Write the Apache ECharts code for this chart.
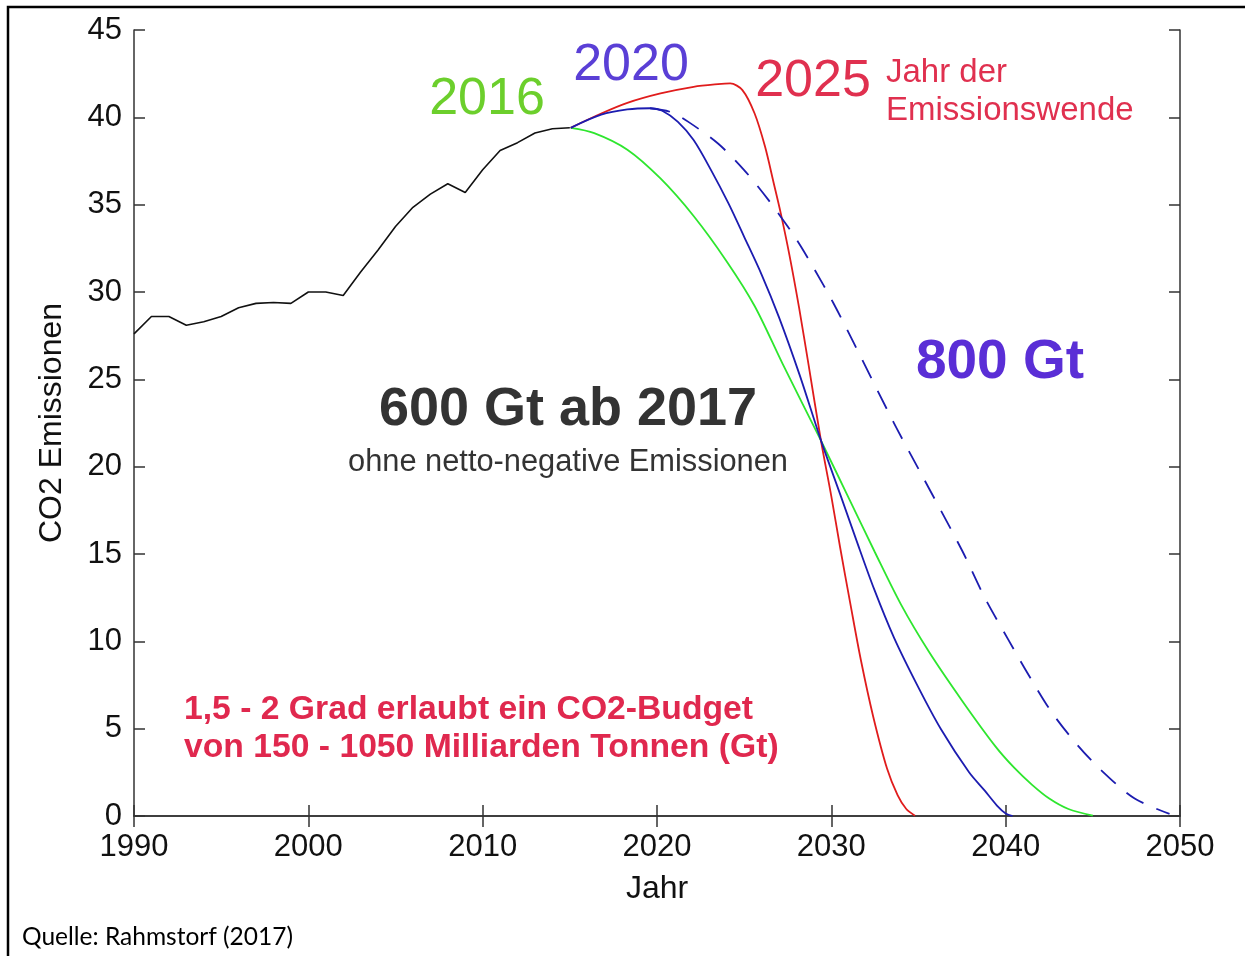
<!DOCTYPE html>
<html>
<head>
<meta charset="utf-8">
<script src="https://cdn.jsdelivr.net/npm/echarts@6/dist/echarts.min.js"></script>
<style>
html,body{margin:0;padding:0;background:#fff;}
#c{width:1245px;height:956px;}
</style>
</head>
<body>
<div id="c"></div>
<script>
// ---- data ----
const histYears = [1990,1991,1992,1993,1994,1995,1996,1997,1998,1999,2000,2001,2002,2003,2004,2005,2006,2007,2008,2009,2010,2011,2012,2013,2014,2015];
const histValues = [27.6,28.6,28.6,28.1,28.3,28.6,29.1,29.35,29.4,29.35,30.0,30.0,29.8,31.15,32.4,33.75,34.85,35.6,36.2,35.7,37.0,38.1,38.55,39.1,39.35,39.4];

const path2025 = [[2015.05,39.4],[2016.8,40.22],[2018.3,40.83],[2020.2,41.37],[2022.1,41.75],[2023.5,41.9],[2024.2,41.94],[2024.9,41.56],[2025.6,40.22],[2026.2,38.31],[2026.7,36.21],[2027.1,34.5],[2027.6,32.1],[2028.15,29.1],[2028.7,25.8],[2029.4,21.52],[2030.0,18.3],[2030.5,15.4],[2031.1,12.1],[2031.7,8.9],[2032.4,5.7],[2033.2,2.7],[2033.8,1.2],[2034.3,0.4],[2034.8,0.02]];
const path2020 = [[2015.05,39.4],[2016.8,40.15],[2018.3,40.45],[2019.6,40.52],[2020.3,40.38],[2021.2,39.74],[2022.1,38.7],[2023.1,36.98],[2024.1,35.07],[2025.0,33.16],[2026.0,31.0],[2027.0,28.55],[2028.2,25.2],[2029.4,21.52],[2030.55,18.3],[2031.45,15.75],[2032.45,13.0],[2033.6,10.2],[2035.0,7.35],[2036.3,4.95],[2037.9,2.5],[2038.8,1.45],[2039.5,0.6],[2040.0,0.15],[2040.4,0.0]];
const path2016 = [[2015.05,39.4],[2016.4,39.1],[2018.3,38.15],[2020.2,36.5],[2022.1,34.35],[2024.0,31.75],[2025.6,29.2],[2027.2,25.9],[2029.4,21.5],[2031.0,18.2],[2032.5,15.1],[2034.0,12.1],[2035.6,9.4],[2037.5,6.6],[2039.4,4.0],[2040.5,2.75],[2041.5,1.8],[2042.5,1.0],[2043.6,0.4],[2045.0,0.02]];
const path800 = [[2019.6,40.52],[2020.8,40.3],[2021.8,39.74],[2023.5,38.5],[2025.0,36.98],[2026.4,35.26],[2027.9,33.16],[2029.0,31.35],[2030.1,29.4],[2031.3,27.06],[2033.6,22.48],[2035.2,19.5],[2037.5,15.2],[2038.8,12.5],[2040.15,10.1],[2041.3,8.1],[2042.6,6.0],[2044.0,4.2],[2045.5,2.6],[2047.4,1.0],[2049.4,0.12]];

const xTicks = [1990, 2050, 10];
const yTicks = [0, 45, 5];

// ---- chart ----
const FONT = '"Liberation Sans", Arial, Helvetica, sans-serif';
const chart = echarts.init(document.getElementById('c'), null, {renderer: 'canvas'});
const histData = histYears.map((y, i) => [y, histValues[i]]);

const axisCommon = {
  axisLine: {show: true, lineStyle: {color: '#333', width: 1.5}},
  axisTick: {show: true, inside: true, length: 11, lineStyle: {color: '#333', width: 1.5}},
  splitLine: {show: false}
};

const option = {
  animation: false,
  backgroundColor: '#fff',
  grid: {left: 134, top: 30, right: 65, bottom: 140, show: false},
  xAxis: [
    Object.assign({
      type: 'value', min: xTicks[0], max: xTicks[1], interval: xTicks[2], position: 'bottom',
      name: 'Jahr', nameLocation: 'middle', nameGap: 57,
      nameTextStyle: {fontFamily: FONT, fontSize: 32, color: '#111'},
      axisLabel: {fontFamily: FONT, fontSize: 31, color: '#111', margin: 16, formatter: v => String(v)}
    }, axisCommon),
    Object.assign({
      type: 'value', min: xTicks[0], max: xTicks[1], interval: xTicks[2], position: 'top',
      axisLabel: {show: false}
    }, axisCommon)
  ],
  yAxis: [
    Object.assign({
      type: 'value', min: yTicks[0], max: yTicks[1], interval: yTicks[2], position: 'left',
      name: 'CO2 Emissionen', nameLocation: 'middle', nameGap: 66, nameRotate: 90,
      nameTextStyle: {fontFamily: FONT, fontSize: 32, color: '#111'},
      axisLabel: {fontFamily: FONT, fontSize: 31, color: '#111', margin: 12, formatter: v => String(v)}
    }, axisCommon),
    Object.assign({
      type: 'value', min: yTicks[0], max: yTicks[1], interval: yTicks[2], position: 'right',
      axisLabel: {show: false}
    }, axisCommon)
  ],
  series: [
    {type: 'line', data: histData, showSymbol: false, lineStyle: {color: '#111', width: 1.6}, z: 5},
    {type: 'line', data: path2016, showSymbol: false, smooth: 0.3, lineStyle: {color: '#2ee62e', width: 1.8}, z: 3},
    {type: 'line', data: path2020, showSymbol: false, smooth: 0.3, lineStyle: {color: '#1c1cb0', width: 1.8}, z: 4},
    {type: 'line', data: path2025, showSymbol: false, smooth: 0.3, lineStyle: {color: '#e01c1c', width: 1.8}, z: 3},
    {type: 'line', data: path800, showSymbol: false, smooth: 0.3, lineStyle: {color: '#1c1cb0', width: 1.8, type: [20, 14]}, z: 3}
  ],
  graphic: [
    {type: 'rect', shape: {x: 8, y: 7, width: 1400, height: 1200}, style: {fill: 'none', stroke: '#000', lineWidth: 2.5}, silent: true, z: 100},
    {type: 'text', x: 487, y: 100, style: {text: '2016', font: '52px ' + FONT, fill: '#6ccf2c', textAlign: 'center', textVerticalAlign: 'middle'}},
    {type: 'text', x: 631, y: 66, style: {text: '2020', font: '52px ' + FONT, fill: '#5a3fd6', textAlign: 'center', textVerticalAlign: 'middle'}},
    {type: 'text', x: 813, y: 82, style: {text: '2025', font: '52px ' + FONT, fill: '#e0304f', textAlign: 'center', textVerticalAlign: 'middle'}},
    {type: 'text', x: 886, y: 73, style: {text: 'Jahr der', font: '33px ' + FONT, fill: '#e0304f', textAlign: 'left', textVerticalAlign: 'middle'}},
    {type: 'text', x: 886, y: 111, style: {text: 'Emissionswende', font: '33px ' + FONT, fill: '#e0304f', textAlign: 'left', textVerticalAlign: 'middle'}},
    {type: 'text', x: 1000, y: 363, style: {text: '800 Gt', font: 'bold 55px ' + FONT, fill: '#5a2ed6', textAlign: 'center', textVerticalAlign: 'middle'}},
    {type: 'text', x: 568, y: 410, style: {text: '600 Gt ab 2017', font: 'bold 54px ' + FONT, fill: '#333', textAlign: 'center', textVerticalAlign: 'middle'}},
    {type: 'text', x: 568, y: 463, style: {text: 'ohne netto-negative Emissionen', font: '30.8px ' + FONT, fill: '#333', textAlign: 'center', textVerticalAlign: 'middle'}},
    {type: 'text', x: 184, y: 710, style: {text: '1,5 - 2 Grad erlaubt ein CO2-Budget', font: 'bold 33.7px ' + FONT, fill: '#e0284e', textAlign: 'left', textVerticalAlign: 'middle'}},
    {type: 'text', x: 184, y: 748, style: {text: 'von 150 - 1050 Milliarden Tonnen (Gt)', font: 'bold 33.7px ' + FONT, fill: '#e0284e', textAlign: 'left', textVerticalAlign: 'middle'}},
    {type: 'text', x: 22, y: 937, style: {text: 'Quelle: Rahmstorf (2017)', font: '24.5px Lato, "Open Sans", sans-serif', fill: '#000', textAlign: 'left', textVerticalAlign: 'middle'}}
  ]
};
chart.setOption(option);
</script>
</body>
</html>
